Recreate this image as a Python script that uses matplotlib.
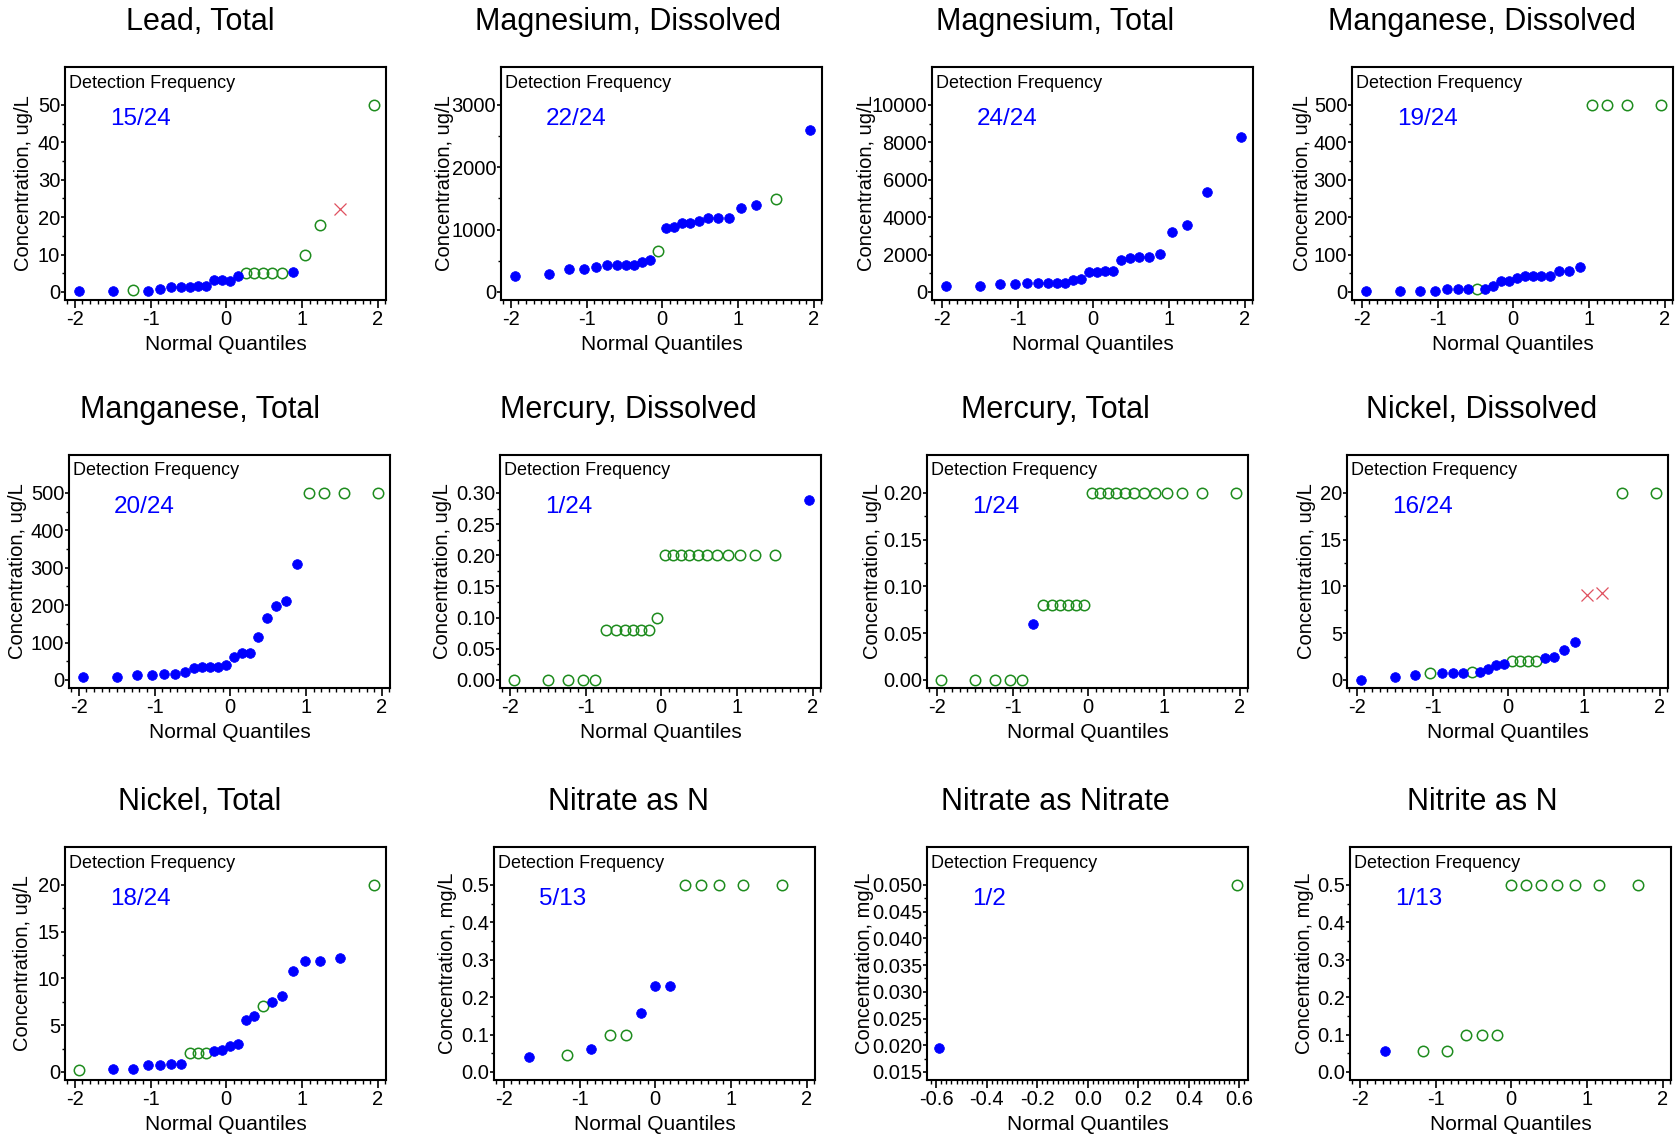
import numpy as np
import matplotlib.pyplot as plt
from matplotlib.ticker import FixedLocator, FormatStrFormatter, MultipleLocator

plt.rcParams['font.family'] = ['Liberation Sans', 'DejaVu Sans']
plt.rcParams['axes.unicode_minus'] = False

# normal quantiles (plotting positions)
q24 = [-1.947, -1.498, -1.236, -1.039, -0.875, -0.732, -0.603, -0.483,
       -0.370, -0.261, -0.156, -0.052, 0.052, 0.156, 0.261, 0.370,
       0.483, 0.603, 0.732, 0.875, 1.039, 1.236, 1.498, 1.947]
q13 = [-1.673, -1.162, -0.848, -0.602, -0.388, -0.190, 0.0,
       0.190, 0.388, 0.602, 0.848, 1.162, 1.673]
q2 = [-0.589, 0.589]

titles = ['Lead, Total', 'Magnesium, Dissolved', 'Magnesium, Total', 'Manganese, Dissolved',
          'Manganese, Total', 'Mercury, Dissolved', 'Mercury, Total', 'Nickel, Dissolved',
          'Nickel, Total', 'Nitrate as N', 'Nitrate as Nitrate', 'Nitrite as N']
units = ['ug/L'] * 9 + ['mg/L'] * 3
det_freq = ['15/24', '22/24', '24/24', '19/24', '20/24', '1/24', '1/24', '16/24',
            '18/24', '5/13', '1/2', '1/13']

# concentrations, in rank order
lead_total = [0.3, 0.3, 0.5, 0.3, 0.8, 1.3, 1.3, 1.3, 1.6, 1.6, 3.1, 3.1,
              2.9, 4.4, 5, 5, 5, 5, 5, 5.3, 10, 18, 22.3, 50]
mg_diss = [262, 294, 368, 368, 400, 432, 432, 440, 440, 475, 512, 651,
           1025, 1040, 1105, 1105, 1137, 1180, 1180, 1180, 1345, 1393, 1495, 2595]
mg_total = [300, 300, 410, 410, 500, 500, 500, 500, 500, 620, 710, 1070,
            1070, 1120, 1120, 1710, 1815, 1850, 1850, 2030, 3220, 3580, 5340, 8310]
mn_diss = [3, 3, 3, 3, 8, 8, 8, 9, 9, 16, 30, 30,
           37, 44, 44, 44, 44, 56, 56, 67, 500, 500, 500, 500]
mn_total = [8, 8, 13, 13, 17, 17, 21, 31, 35, 35, 35, 39,
            61, 72, 72, 115, 167, 197, 210, 310, 500, 500, 500, 500]
hg_diss = [0, 0, 0, 0, 0, 0.08, 0.08, 0.08, 0.08, 0.08, 0.08, 0.10,
           0.20, 0.20, 0.20, 0.20, 0.20, 0.20, 0.20, 0.20, 0.20, 0.20, 0.20, 0.288]
hg_total = [0, 0, 0, 0, 0, 0.06, 0.08, 0.08, 0.08, 0.08, 0.08, 0.08,
            0.20, 0.20, 0.20, 0.20, 0.20, 0.20, 0.20, 0.20, 0.20, 0.20, 0.20, 0.20]
ni_diss = [0.0, 0.3, 0.5, 0.7, 0.7, 0.7, 0.7, 0.9, 0.8, 1.2, 1.6, 1.7,
           2.0, 2.0, 2.0, 2.0, 2.3, 2.5, 3.2, 4.1, 9.1, 9.35, 20, 20]
ni_total = [0.2, 0.35, 0.35, 0.7, 0.7, 0.85, 0.85, 2.05, 2.05, 2.05, 2.2, 2.35,
            2.8, 3.0, 5.6, 6.0, 7.05, 7.45, 8.15, 10.8, 11.9, 11.9, 12.2, 20]
no3_n = [0.04, 0.046, 0.062, 0.10, 0.10, 0.157, 0.23, 0.23, 0.5, 0.5, 0.5, 0.5, 0.5]
no3 = [0.0195, 0.050]
no2_n = [0.055, 0.055, 0.055, 0.10, 0.10, 0.10, 0.5, 0.5, 0.5, 0.5, 0.5, 0.5, 0.5]

# d = detected, n = non-detect, x = flagged detect
lead_flag = 'ddndddddddddddnnnnndnnxn'
mg_diss_flag = 'dddddddddddnddddddddddnd'
mg_total_flag = 'dddddddddddddddddddddddd'
mn_diss_flag = 'dddddddnddddddddddddnnnn'
mn_total_flag = 'ddddddddddddddddddddnnnn'
hg_diss_flag = 'nnnnnnnnnnnnnnnnnnnnnnnd'
hg_total_flag = 'nnnnndnnnnnnnnnnnnnnnnnn'
ni_diss_flag = 'dddndddnddddnnnnddddxxnn'
ni_total_flag = 'nddddddnnnddddddnddddddn'
no3_n_flag = 'dndnndddnnnnn'
no3_flag = 'dn'
no2_n_flag = 'dnnnnnnnnnnnn'

xs = [q24] * 9 + [q13, q2, q13]
ys = [lead_total, mg_diss, mg_total, mn_diss, mn_total, hg_diss, hg_total,
      ni_diss, ni_total, no3_n, no3, no2_n]
flags = [lead_flag, mg_diss_flag, mg_total_flag, mn_diss_flag, mn_total_flag,
         hg_diss_flag, hg_total_flag, ni_diss_flag, ni_total_flag,
         no3_n_flag, no3_flag, no2_n_flag]

# y tick range: first tick, last tick, step, format
yticks = [(0, 50, 10, '%d'), (0, 3000, 1000, '%d'), (0, 10000, 2000, '%d'),
          (0, 500, 100, '%d'), (0, 500, 100, '%d'), (0, 0.30, 0.05, '%.2f'),
          (0, 0.20, 0.05, '%.2f'), (0, 20, 5, '%d'), (0, 20, 5, '%d'),
          (0, 0.5, 0.1, '%.1f'), (0.015, 0.050, 0.005, '%.3f'), (0, 0.5, 0.1, '%.1f')]

# layout in pixels
W, H = 1675, 1138
box_left = [65, 501, 932, 1352, 69, 500, 927, 1347, 65, 494, 927, 1350]
row_top = [67, 455, 847]
box_w, box_h = 321, 233
ylab_x = [24, 444, 867, 1302, 18, 443, 872, 1307, 23, 448, 865, 1305]
title_x = [200, 628, 1055, 1482]

blue = '#0000ff'
green = '#1e8c1e'
red = '#e0505f'

fig = plt.figure(figsize=(W / 100, H / 100), dpi=100)

for i in range(12):
    r, c = divmod(i, 4)
    top = row_top[r]
    ax = fig.add_axes([box_left[i] / W, 1 - (top + box_h) / H, box_w / W, box_h / H])

    x = np.array(xs[i])
    y = np.array(ys[i])
    f = np.array(list(flags[i]))

    ax.plot(x[f == 'n'], y[f == 'n'], 'o', ms=7.5, mfc='none', mec=green, mew=1.1)
    ax.plot(x[f == 'd'], y[f == 'd'], 'o', ms=7, mfc=blue, mec=blue, mew=0.5)
    ax.plot(x[f == 'x'], y[f == 'x'], 'x', ms=8, color=red, mew=0.9)

    y0, y1, step, fmt = yticks[i]
    rng = y1 - y0
    nstep = int(round(rng / step))
    ax.set_ylim(y0 - 0.043 * rng, y0 + 1.203 * rng)
    ax.yaxis.set_major_locator(FixedLocator([y0 + k * step for k in range(nstep + 1)]))
    ax.yaxis.set_minor_locator(FixedLocator([y0 + (k + 0.5) * step for k in range(nstep)]))
    ax.yaxis.set_major_formatter(FormatStrFormatter(fmt))

    if i == 10:
        ax.set_xlim(-0.637, 0.634)
        ax.xaxis.set_major_locator(MultipleLocator(0.2))
        ax.xaxis.set_minor_locator(MultipleLocator(0.02))
        ax.xaxis.set_major_formatter(FormatStrFormatter('%.1f'))
    else:
        ax.set_xlim(-2.13, 2.11)
        ax.xaxis.set_major_locator(MultipleLocator(1))
        ax.xaxis.set_minor_locator(MultipleLocator(0.1))
        ax.xaxis.set_major_formatter(FormatStrFormatter('%d'))

    for s in ax.spines.values():
        s.set_linewidth(1.5)
    ax.tick_params(axis='x', which='major', direction='out', length=5.5, width=1.2,
                   labelsize=14.5, pad=1.5)
    ax.tick_params(axis='x', which='minor', direction='out', length=3, width=1.0)
    ax.tick_params(axis='y', which='major', direction='out', length=3, width=1.2,
                   labelsize=14.5, pad=0.5)
    ax.tick_params(axis='y', which='minor', direction='out', length=2, width=1.0)

    ax.set_xlabel('Normal Quantiles', fontsize=15)
    ax.xaxis.set_label_coords(0.5, -0.15)

    ax.text(4 / box_w, 1 - 16 / box_h, 'Detection Frequency', transform=ax.transAxes,
            ha='left', va='center', fontsize=13)
    ax.text(45 / box_w, 1 - 52 / box_h, det_freq[i], transform=ax.transAxes,
            ha='left', va='center', fontsize=17.5, color=blue)

    fig.text(ylab_x[i] / W, 1 - (top + box_h / 2) / H, 'Concentration, ' + units[i],
             rotation=90, ha='center', va='center', fontsize=14.5)
    fig.text(title_x[c] / W, 1 - (top - 45) / H, titles[i],
             ha='center', va='center', fontsize=22)

fig.savefig('out.png', dpi=100)
